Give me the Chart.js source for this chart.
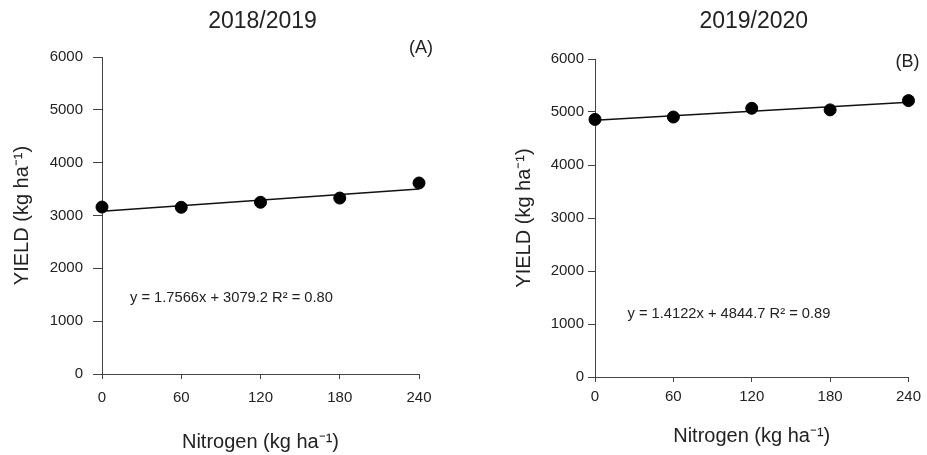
<!DOCTYPE html>
<html><head><meta charset="utf-8">
<script src="https://cdn.jsdelivr.net/npm/chart.js@4"></script>
<style>
html,body{margin:0;padding:0;background:#fff;overflow:hidden}
#wrap{position:relative;width:927px;height:455px;background:#fff}
canvas{position:absolute;top:0}
#cA{left:0}
#cB{left:463px}
</style></head><body>
<div id="wrap"><canvas id="cA" width="463" height="455"></canvas><canvas id="cB" width="464" height="455"></canvas></div>
<script>
// ---- data ----
const nitrogen = [0, 60, 120, 180, 240];
const yield2018 = [3160, 3155, 3250, 3330, 3615];
const yield2019 = [4860, 4905, 5070, 5040, 5215];
const trendX = [0, 240];
const trend2018 = [3079.2, 3500.8];
const trend2019 = [4844.7, 5183.6];
const xTickValues = [0, 60, 120, 180, 240];
const yTickValues = [0, 1000, 2000, 3000, 4000, 5000, 6000];
const titles = ['2018/2019', '2019/2020'];
const tags = ['(A)', '(B)'];
const equations = ['y = 1.7566x + 3079.2 R² = 0.80', 'y = 1.4122x + 4844.7 R² = 0.89'];
const xTitle = 'Nitrogen (kg ha⁻¹)';
const yTitle = 'YIELD (kg ha⁻¹)';

const FONT = '"Liberation Sans", Arial, sans-serif';
Chart.defaults.font.family = FONT;
Chart.defaults.color = '#222';

const annot = {
  id: 'annot',
  afterDraw(chart, args, o) {
    const {ctx, chartArea: a, scales: {x, y}} = chart;
    ctx.save();
    ctx.fillStyle = '#222';
    ctx.textBaseline = 'middle';
    ctx.font = '23px ' + FONT;
    ctx.textAlign = 'center';
    ctx.fillText(o.title, (a.left + a.right) / 2 + 2, o.titleY);
    ctx.font = '18px ' + FONT;
    ctx.textAlign = 'right';
    ctx.fillText(o.tag, a.right + o.tagDx, a.top + o.tagDy);
    ctx.font = '14.7px ' + FONT;
    ctx.textAlign = 'left';
    ctx.fillText(o.eq, x.getPixelForValue(o.eqX), y.getPixelForValue(o.eqY));
    ctx.restore();
  }
};

function makeChart(id, ys, trend, idx, L) {
  const pts = nitrogen.map((n, i) => ({x: n, y: ys[i]}));
  const tr = trendX.map((n, i) => ({x: n, y: trend[i]}));
  return new Chart(document.getElementById(id), {
    type: 'scatter',
    data: {
      datasets: [
        {data: pts, pointRadius: 6, pointHoverRadius: 6, backgroundColor: '#000', borderColor: '#000', showLine: false, clip: false},
        {data: tr, showLine: true, pointRadius: 0, borderColor: '#111', borderWidth: 1.5, fill: false, clip: false}
      ]
    },
    options: {
      responsive: false,
      animation: false,
      devicePixelRatio: 1,
      events: [],
      layout: {padding: L.pad},
      plugins: {
        legend: {display: false},
        tooltip: {enabled: false},
        annot: {title: titles[idx], titleY: 22, tag: tags[idx], tagDx: L.tagDx, tagDy: L.tagDy,
                eq: equations[idx], eqX: L.eqX, eqY: L.eqY}
      },
      scales: {
        x: {
          type: 'linear', min: 0, max: 240,
          afterBuildTicks: s => { s.ticks = xTickValues.map(v => ({value: v})); },
          afterFit: s => { s.height = L.xH; },
          ticks: {color: '#222', font: {size: 15}, padding: L.xPad, maxRotation: 0, callback: v => String(v)},
          grid: {drawOnChartArea: false, drawTicks: true, tickLength: 5, color: '#444', tickColor: '#444'},
          border: {display: true, color: '#444', width: 1},
          title: {display: true, text: xTitle, color: '#222', font: {size: 20}, padding: {top: 0, bottom: L.xTitlePad}}
        },
        y: {
          type: 'linear', min: 0, max: 6000,
          afterBuildTicks: s => { s.ticks = yTickValues.map(v => ({value: v})); },
          afterFit: s => { s.width = L.yW; },
          ticks: {color: '#222', font: {size: 15}, padding: L.yPad, callback: v => String(v)},
          grid: {drawOnChartArea: false, drawTicks: true, tickLength: L.yTick, color: '#444', tickColor: '#444'},
          border: {display: true, color: '#444', width: 1},
          title: {display: true, text: yTitle, color: '#222', font: {size: 20}, padding: {top: 10, bottom: 0}}
        }
      }
    },
    plugins: [annot]
  });
}

makeChart('cA', yield2018, trend2018, 0, {
  pad: {top: 57, right: 44, bottom: 0, left: 0},
  yW: 102, xH: 81, xPad: 10, xTitlePad: 1, yPad: 10, yTick: 9,
  tagDx: 14, tagDy: -9, eqX: 21.2, eqY: 1438
});
makeChart('cB', yield2019, trend2019, 1, {
  pad: {top: 59, right: 14, bottom: 0, left: 39},
  yW: 93, xH: 78, xPad: 6, xTitlePad: 7, yPad: 4, yTick: 7,
  tagDx: 11, tagDy: 3, eqX: 24.9, eqY: 1189
});
</script>
</body></html>
